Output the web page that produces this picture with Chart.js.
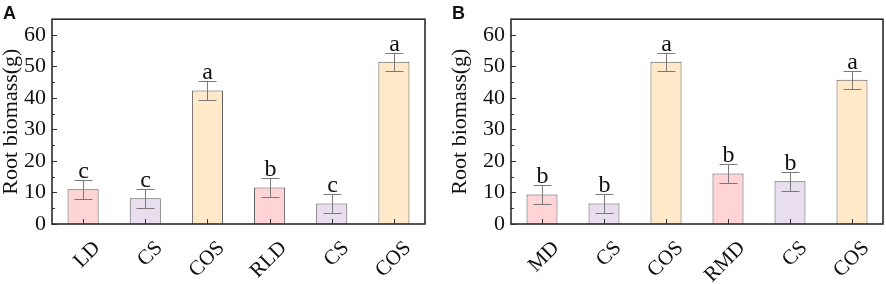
<!DOCTYPE html>
<html>
<head>
<meta charset="utf-8">
<script src="https://cdn.jsdelivr.net/npm/chart.js@4.4.1/dist/chart.umd.min.js"></script>
<style>
  html, body { margin: 0; padding: 0; background: #fff; }
  #wrap { position: relative; width: 886px; height: 284px; overflow: hidden; }
  canvas { position: absolute; top: 0; }
  #chartA { left: 0; }
  #chartB { left: 440px; }
  .panel { position: absolute; top: 3px; font: bold 18px "Liberation Sans", Arial, sans-serif; color: #111; }
</style>
</head>
<body>
<div id="wrap">
  <canvas id="chartA" width="440" height="284"></canvas>
  <canvas id="chartB" width="446" height="284"></canvas>
  <div class="panel" style="left:3px">A</div>
  <div class="panel" style="left:452px">B</div>
</div>
<script>
// panel A
const catsA = ["LD", "CS", "COS", "RLD", "CS", "COS"];
const valsA = [11.0, 8.2, 42.4, 11.6, 6.5, 51.5];
const errA = [3.0, 3.0, 3.1, 2.9, 2.9, 2.9];
const lettersA = ["c", "c", "a", "b", "c", "a"];

// panel B
const catsB = ["MD", "CS", "COS", "RMD", "CS", "COS"];
const valsB = [9.4, 6.5, 51.5, 16.0, 13.6, 45.8];
const errB = [3.0, 2.9, 2.9, 3.1, 3.0, 2.8];
const lettersB = ["b", "b", "a", "b", "b", "a"];

// y axis
const yMax = 65;
const yMajor = [0, 10, 20, 30, 40, 50, 60];
const yMinor = [5, 15, 25, 35, 45, 55];

const PINK = "#ffd4d6", LAVENDER = "#e9deee", PEACH = "#ffe9c9";
const barColors = [PINK, LAVENDER, PEACH, PINK, LAVENDER, PEACH];
const SERIF = '"Liberation Serif", "Times New Roman", serif';

const extrasPlugin = {
  id: "extras",
  afterDatasetsDraw(chart, args, opts) {
    const { ctx, chartArea: a, scales } = chart;
    const y = scales.y;
    const meta = chart.getDatasetMeta(0);
    ctx.save();
    // error bars
    ctx.strokeStyle = "#7a7a7a";
    ctx.lineWidth = 1;
    opts.errs.forEach((e, i) => {
      const v = chart.data.datasets[0].data[i];
      const cx = Math.round(meta.data[i].x) + 0.5;
      const yt = Math.round(y.getPixelForValue(v + e)) + 0.5;
      const yb = Math.round(y.getPixelForValue(v - e)) + 0.5;
      ctx.beginPath();
      ctx.moveTo(cx, yt); ctx.lineTo(cx, yb);
      ctx.moveTo(cx - 9, yt); ctx.lineTo(cx + 9, yt);
      ctx.moveTo(cx - 9, yb); ctx.lineTo(cx + 9, yb);
      ctx.stroke();
      // significance letter
      ctx.fillStyle = "#111";
      ctx.font = "24px " + SERIF;
      ctx.textAlign = "center";
      ctx.textBaseline = "alphabetic";
      ctx.fillText(opts.letters[i], cx, yt - 3);
    });
    // inward ticks
    ctx.strokeStyle = "#333";
    ctx.lineWidth = 1;
    ctx.beginPath();
    yMajor.forEach(t => {
      const py = Math.round(y.getPixelForValue(t)) + 0.5;
      ctx.moveTo(a.left, py); ctx.lineTo(a.left + 5, py);
    });
    yMinor.forEach(t => {
      const py = Math.round(y.getPixelForValue(t)) + 0.5;
      ctx.moveTo(a.left, py); ctx.lineTo(a.left + 3, py);
    });
    meta.data.forEach(b => {
      const px = Math.round(b.x) + 0.5;
      ctx.moveTo(px, a.bottom); ctx.lineTo(px, a.bottom - 5);
    });
    ctx.stroke();
    // frame
    ctx.lineWidth = 1.6;
    ctx.strokeStyle = "#2a2a2a";
    ctx.strokeRect(a.left, a.top, a.right - a.left, a.bottom - a.top);
    ctx.restore();
  }
};

const drawPanel = (canvasId, cats, vals, errs, letters, yWidth, titlePad, padRight) => {
  const ctx = document.getElementById(canvasId).getContext("2d");
  new Chart(ctx, {
    type: "bar",
    data: {
      labels: cats,
      datasets: [{
        data: vals,
        backgroundColor: barColors,
        borderColor: "#555",
        borderWidth: 1,
        categoryPercentage: 1,
        barPercentage: 0.5
      }]
    },
    options: {
      responsive: false,
      animation: false,
      layout: { padding: { left: 0, right: padRight, top: 3, bottom: 0 } },
      plugins: {
        legend: { display: false },
        tooltip: { enabled: false },
        extras: { errs: errs, letters: letters }
      },
      scales: {
        x: {
          grid: { display: false, drawTicks: false },
          border: { display: false },
          ticks: {
            autoSkip: false,
            minRotation: 45,
            maxRotation: 45,
            padding: 12,
            labelOffset: 14,
            color: "#111",
            font: { family: SERIF, size: 21 }
          },
          afterFit: s => { s.height = 60; }
        },
        y: {
          min: 0,
          max: yMax,
          grid: { display: false, drawTicks: false },
          border: { display: false },
          afterBuildTicks: s => { s.ticks = yMajor.map(v => ({ value: v })); },
          ticks: {
            padding: 6,
            color: "#111",
            font: { family: SERIF, size: 22 }
          },
          title: {
            display: true,
            text: "Root biomass(g)",
            color: "#111",
            font: { family: SERIF, size: 22, lineHeight: 1 },
            padding: { top: titlePad, bottom: 0 }
          },
          afterFit: s => { s.width = yWidth; }
        }
      }
    },
    plugins: [extrasPlugin]
  });
};

drawPanel("chartA", catsA, valsA, errA, lettersA, 52, 0, 15);
drawPanel("chartB", catsB, valsB, errB, lettersB, 71, 9, 3);
</script>
</body>
</html>
